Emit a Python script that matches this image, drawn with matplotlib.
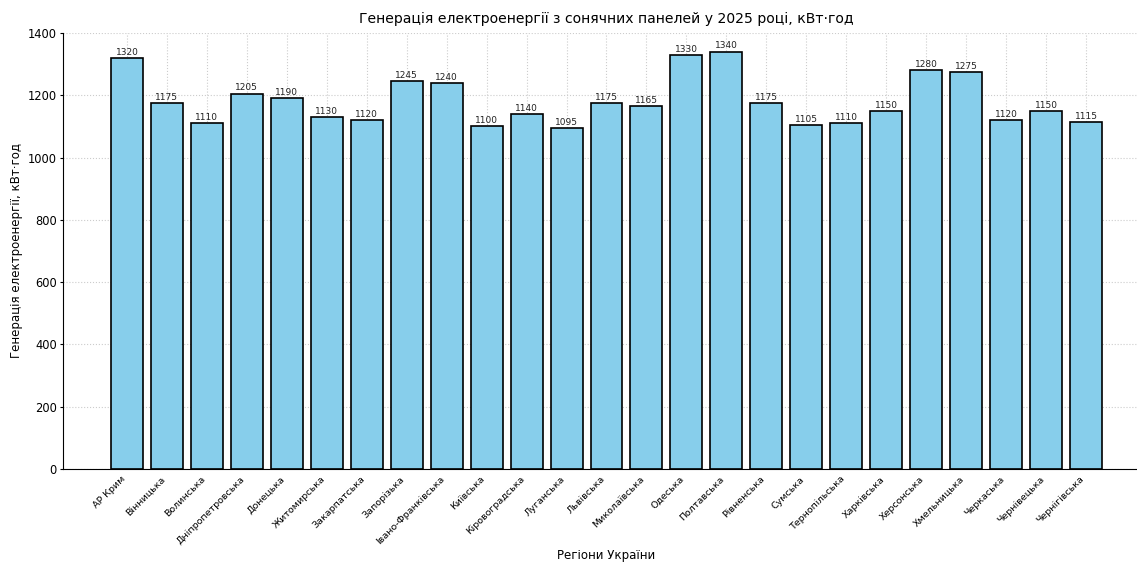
import matplotlib
matplotlib.use("Agg")
import matplotlib.pyplot as plt

regions = ["АР Крим", "Вінницька", "Волинська", "Дніпропетровська", "Донецька",
           "Житомирська", "Закарпатська", "Запорізька", "Івано-Франківська", "Київська",
           "Кіровоградська", "Луганська", "Львівська", "Миколаївська", "Одеська",
           "Полтавська", "Рівненська", "Сумська", "Тернопільська", "Харківська",
           "Херсонська", "Хмельницька", "Черкаська", "Чернівецька", "Чернігівська"]
values = [1320, 1175, 1110, 1205, 1190, 1130, 1120, 1245, 1240, 1100,
          1140, 1095, 1175, 1165, 1330, 1340, 1175, 1105, 1110, 1150,
          1280, 1275, 1120, 1150, 1115]

plt.rcParams['font.family'] = ['DejaVu Sans']
W, H = 1137, 562
fig = plt.figure(figsize=(W / 100, H / 100), dpi=100)
left, right, top, bottom = 63, 1150, 33, 469
ax = fig.add_axes([left / W, 1 - bottom / H, (right - left) / W, (bottom - top) / H])

x = list(range(len(regions)))
ax.bar(x, values, width=0.8, color="#87CEEB", edgecolor="black", linewidth=1.2, zorder=2)
for xi, v in zip(x, values):
    ax.text(xi, v + 4, str(v), ha="center", va="bottom", fontsize=6.5, color="#222222", zorder=3)

ax.set_xlim(-1.6, 25.6)
ax.set_ylim(0, 1400)
ax.set_yticks(range(0, 1401, 200))
ax.set_xticks(x)
ax.set_xticklabels(regions, rotation=45, ha="right", fontsize=6.8)
ax.tick_params(axis="y", labelsize=8.3, length=2.5, pad=2)
ax.tick_params(axis="x", direction="in", length=3, pad=4)
ax.grid(True, linestyle=":", color="#cccccc", linewidth=0.8, zorder=0)
ax.set_axisbelow(True)
ax.spines["top"].set_visible(False)
ax.spines["right"].set_visible(False)

ax.set_title("Генерація електроенергії з сонячних панелей у 2025 році, кВт·год", fontsize=10.1, pad=7)
ax.set_xlabel("Регіони України", fontsize=8.5, labelpad=2)
ax.set_ylabel("Генерація електроенергії, кВт·год", fontsize=8.5, labelpad=3)

fig.savefig("out.png", dpi=100)
